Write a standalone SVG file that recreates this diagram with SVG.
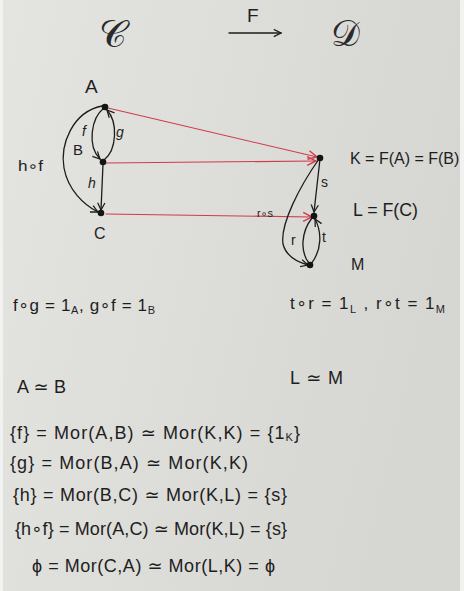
<svg xmlns="http://www.w3.org/2000/svg" width="464" height="591" viewBox="0 0 464 591">
<defs>
<linearGradient id="paper" x1="0" y1="0" x2="1" y2="0.3">
<stop offset="0" stop-color="#e4e4e1"/>
<stop offset="1" stop-color="#d6d6d3"/>
</linearGradient>
<marker id="ah" viewBox="0 0 10 10" refX="9" refY="5" markerWidth="9" markerHeight="9" markerUnits="userSpaceOnUse" orient="auto">
<path d="M1,1 L9,5 L1,9" fill="none" stroke="#1c1c1c" stroke-width="1.4"/>
</marker>
<marker id="ahr" viewBox="0 0 10 10" refX="9" refY="5" markerWidth="11" markerHeight="11" markerUnits="userSpaceOnUse" orient="auto">
<path d="M1,1 L9,5 L1,9" fill="none" stroke="#cf3d4a" stroke-width="1.3"/>
</marker>
</defs>
<style>
.ink{fill:none;stroke:#1c1c1c;stroke-width:1.3;stroke-linecap:round}
.red{fill:none;stroke:#cf3d4a;stroke-width:1.1;stroke-linecap:round}
.dot{fill:#141414}
text{font-family:"Liberation Sans","DejaVu Sans",sans-serif;fill:#1e1e1e}
.lbl{font-size:17px}
.sm{font-size:14px}
.eq{font-size:18px}
.script{font-family:"DejaVu Serif","Liberation Serif",serif;fill:#2a2a2a}
</style>
<rect width="464" height="591" fill="#f2f2f0"/>
<rect x="3" y="0" width="457" height="591" fill="url(#paper)"/>

<g id="title">
<text class="script" x="99" y="47" style="font-size:38px">𝒞</text>
<text x="247" y="22" style="font-size:19px">F</text>
<path class="ink" d="M229,33 L281,33" marker-end="url(#ah)"/>
<text class="script" x="331" y="46" style="font-size:36px">𝒟</text>
</g>

<g id="connectors">
<path class="red" d="M108,108 L317,157" marker-end="url(#ahr)"/>
<path class="red" d="M106,163 L316,161" marker-end="url(#ahr)"/>
<path class="red" d="M106,214 L312,217" marker-end="url(#ahr)"/>
<path class="ink" d="M104,108 C91,118 87,146 100,159" marker-end="url(#ah)"/>
<path class="ink" d="M104,160 C117,150 118,122 107,110" marker-end="url(#ah)"/>
<path class="ink" d="M103,164 L101,210" marker-end="url(#ah)"/>
<path class="ink" d="M102,106 C72,112 60,145 64,168 C68,190 84,205 98,212" marker-end="url(#ah)"/>
<path class="ink" d="M320,159 L314,212" marker-end="url(#ah)"/>
<path class="ink" d="M319,159 C300,186 280,224 283,244 C286,256 297,262 308,265" marker-end="url(#ah)"/>
<path class="ink" d="M312,218 C301,232 300,252 309,263"/>
<path class="ink" d="M311,264 C322,250 322,232 315,219" marker-end="url(#ah)"/>
</g>

<g id="node-A"><circle class="dot" cx="105" cy="107" r="3.3"/><text class="lbl" x="85" y="93" style="font-size:19px">A</text></g>
<g id="node-B"><circle class="dot" cx="103" cy="162" r="3.3"/><text class="lbl" x="73" y="155" style="font-size:15px">B</text></g>
<g id="node-C"><circle class="dot" cx="101" cy="213" r="3.3"/><text class="lbl" x="94" y="239" style="font-size:16px">C</text></g>
<g id="node-K"><circle class="dot" cx="320" cy="158" r="3.3"/><text x="350" y="164" style="font-size:16px">K = F(A) = F(B)</text></g>
<g id="node-L"><circle class="dot" cx="314" cy="216" r="3.3"/><text x="353" y="216" textLength="65" lengthAdjust="spacingAndGlyphs" style="font-size:18px">L = F(C)</text></g>
<g id="node-M"><circle class="dot" cx="310" cy="265" r="3.3"/><text x="351" y="270" style="font-size:16px">M</text></g>

<g id="edge-labels">
<text class="sm" x="82" y="136" font-style="italic">f</text>
<text class="sm" x="116" y="137" font-style="italic">g</text>
<text class="sm" x="88" y="188" font-style="italic">h</text>
<text class="sm" x="18" y="171" textLength="25" lengthAdjust="spacingAndGlyphs">h∘f</text>
<text x="257" y="217" style="font-size:10px" textLength="16" lengthAdjust="spacingAndGlyphs">r∘s</text>
<text class="sm" x="321" y="187">s</text>
<text class="sm" x="291" y="245">r</text>
<text class="sm" x="322" y="242">t</text>
</g>

<g id="equations">
<text class="eq" x="13" y="311" textLength="142" lengthAdjust="spacing" style="font-size:17px">f∘g = 1<tspan font-size="11" dy="3">A</tspan><tspan dy="-3">, g∘f = 1</tspan><tspan font-size="11" dy="3">B</tspan></text>
<text class="eq" x="290" y="309" textLength="155" lengthAdjust="spacing" style="font-size:17px">t∘r = 1<tspan font-size="11" dy="4">L</tspan><tspan dy="-4">  ,  r∘t = 1</tspan><tspan font-size="11" dy="4">M</tspan></text>
<text class="eq" x="17" y="393" textLength="49" lengthAdjust="spacing">A ≃ B</text>
<text class="eq" x="290" y="384" textLength="53" lengthAdjust="spacing">L ≃ M</text>
<text class="eq" x="10" y="439" textLength="290" lengthAdjust="spacing">{f} = Mor(A,B) ≃ Mor(K,K) = {1<tspan font-size="11" dy="2">K</tspan><tspan dy="-2">}</tspan></text>
<text class="eq" x="10" y="469" textLength="238" lengthAdjust="spacing">{g} = Mor(B,A) ≃  Mor(K,K)</text>
<text class="eq" x="13" y="501" textLength="274" lengthAdjust="spacing">{h} =  Mor(B,C) ≃  Mor(K,L) = {s}</text>
<text class="eq" x="15" y="535" textLength="272" lengthAdjust="spacing">{h∘f} = Mor(A,C) ≃ Mor(K,L) = {s}</text>
<text class="eq" x="32" y="572" textLength="243" lengthAdjust="spacing">ϕ  = Mor(C,A) ≃ Mor(L,K) = ϕ</text>
</g>
</svg>
